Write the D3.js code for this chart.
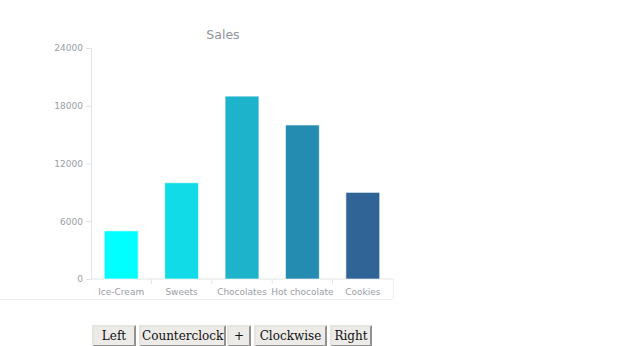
<!DOCTYPE html>
<html>
<head>
<meta charset="utf-8">
<script src="https://cdn.jsdelivr.net/npm/d3@7"></script>
<style>
  body { margin: 0; background: #fff; font-family: "DejaVu Sans", sans-serif; }
  #wrap { position: relative; width: 620px; height: 346px; overflow: hidden; }
  svg { position: absolute; left: 0; top: 0; }
  #controls { position: absolute; left: 92px; top: 325px; white-space: nowrap; font-size: 0; }
  #controls button {
    font-family: "DejaVu Serif", serif; font-size: 12px; color: #111;
    height: 22px; padding: 0 1px; margin: 0;
    background: #ecebe8; border: 2px outset #e6e4e1; border-radius: 0;
    overflow: hidden; white-space: nowrap; text-align: center; vertical-align: top;
  }
  .axis text { fill: #9a9ea5; font-size: 9px; font-family: "DejaVu Sans", sans-serif; }
  .axis path, .axis line { stroke: #e2e4e7; }
</style>
</head>
<body>
<div id="wrap">
  <svg id="chart" width="620" height="320"></svg>
  <div id="controls"></div>
</div>
<script>
// chart values
const categories = ["Ice-Cream", "Sweets", "Chocolates", "Hot chocolate", "Cookies"];
const sales = [5000, 10000, 19000, 16000, 9000];
const barColors = ["#00ffff", "#11dbe6", "#1db3cb", "#248bb1", "#306497"];
const yTicks = [0, 6000, 12000, 18000, 24000];
const buttonLabels = ["Left", "Counterclockwise", "+", "Clockwise", "Right"];
const buttonWidths = [44, 87, 24, 73, 42];
const buttonGaps = [3, 1, 3, 3, 0];

(function () {
  const svg = d3.select("#chart");
  const L = 91, R = 393, T = 48, B = 279;

  const x = d3.scaleBand().domain(categories).range([L, R]).paddingInner(0.44).paddingOuter(0.22);
  const y = d3.scaleLinear().domain([0, 24000]).range([B, T]);

  // faint frame under the chart
  svg.append("line").attr("x1", 0).attr("x2", R).attr("y1", 299.5).attr("y2", 299.5)
    .attr("stroke", "#eceef0");
  svg.append("line").attr("x1", R + 0.5).attr("x2", R + 0.5).attr("y1", B).attr("y2", 299)
    .attr("stroke", "#eceef0");

  svg.append("text").attr("x", 223).attr("y", 39).attr("text-anchor", "middle")
    .attr("fill", "#8f949c").attr("font-size", 12.5).text("Sales");

  svg.append("g").attr("class", "axis").attr("transform", `translate(${L},0)`)
    .call(d3.axisLeft(y).tickValues(yTicks).tickFormat(d3.format("d")).tickSize(5).tickSizeOuter(5).tickPadding(3));

  // x axis: tick lines between bands
  const xg = svg.append("g").attr("class", "axis").attr("transform", `translate(0,${B})`);
  xg.append("path").attr("d", `M${L},0H${R}`).attr("fill", "none");
  const step = x.step();
  const bounds = d3.range(1, categories.length).map(i => x(categories[i]) - x.paddingInner() * step / 2);
  xg.selectAll("line.sep").data(bounds).join("line").attr("class", "sep")
    .attr("x1", d => d).attr("x2", d => d).attr("y1", 0).attr("y2", 5);
  xg.selectAll("text").data(categories).join("text")
    .attr("x", d => x(d) + x.bandwidth() / 2).attr("y", 16).attr("text-anchor", "middle").text(d => d);

  svg.selectAll("rect.bar").data(categories).join("rect").attr("class", "bar")
    .attr("x", d => x(d)).attr("width", x.bandwidth())
    .attr("y", (d, i) => y(sales[i])).attr("height", (d, i) => B - y(sales[i]))
    .attr("fill", (d, i) => barColors[i])
    .attr("stroke", "rgba(255,255,255,0.6)").attr("stroke-width", 1);

  d3.select("#controls").selectAll("button").data(buttonLabels).join("button")
    .style("width", (d, i) => buttonWidths[i] + "px")
    .style("margin-right", (d, i) => buttonGaps[i] + "px")
    .text(d => d);
})();
</script>
</body>
</html>
